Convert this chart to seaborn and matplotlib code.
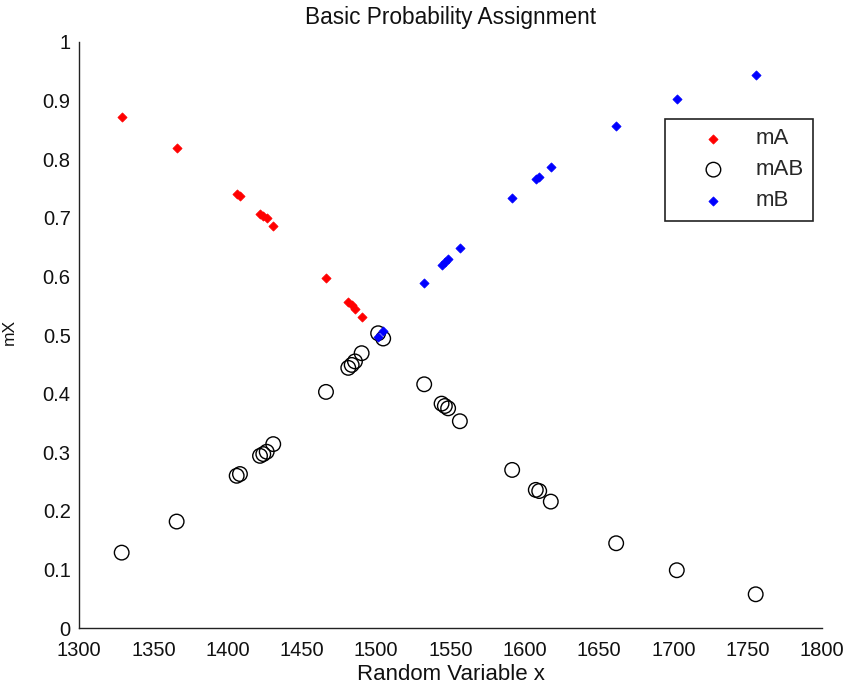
import matplotlib
matplotlib.use("Agg")
import matplotlib.pyplot as plt
import seaborn as sns
import pandas as pd

# x values (left half: mA region, right half: mB region)
x_left = [1328.7, 1365.7, 1406.1, 1408.3, 1421.8, 1424.0, 1426.3, 1430.7,
          1466.2, 1481.2, 1483.5, 1485.7, 1490.2]
mA = [0.871, 0.818, 0.740, 0.737, 0.706, 0.703, 0.699, 0.686,
      0.597, 0.556, 0.551, 0.545, 0.531]
mAB_left = [0.129, 0.182, 0.260, 0.263, 0.294, 0.297, 0.301, 0.314,
            0.403, 0.444, 0.449, 0.455, 0.469]

x_right = [1501.3, 1504.7, 1532.3, 1544.0, 1546.2, 1548.4, 1556.3, 1591.5,
           1607.4, 1609.7, 1617.5, 1661.5, 1702.3, 1755.4]
mB = [0.497, 0.506, 0.588, 0.619, 0.624, 0.629, 0.649, 0.734,
      0.766, 0.770, 0.787, 0.857, 0.903, 0.944]
mAB_right = [0.503, 0.494, 0.416, 0.383, 0.379, 0.375, 0.353, 0.270,
             0.236, 0.234, 0.216, 0.145, 0.099, 0.058]

title = "Basic Probability Assignment"
xlabel = "Random Variable x"
ylabel = "mX"
xticks = [1300, 1350, 1400, 1450, 1500, 1550, 1600, 1650, 1700, 1750, 1800]
yticks = [0, 0.1, 0.2, 0.3, 0.4, 0.5, 0.6, 0.7, 0.8, 0.9, 1]
ytick_labels = ["0", "0.1", "0.2", "0.3", "0.4", "0.5", "0.6", "0.7", "0.8", "0.9", "1"]

sns.set_style("white")
plt.rcParams["font.family"] = ["Liberation Sans", "DejaVu Sans"]

df_A = pd.DataFrame({"x": x_left, "y": mA})
df_AB = pd.DataFrame({"x": x_left + x_right, "y": mAB_left + mAB_right})
df_B = pd.DataFrame({"x": x_right, "y": mB})

fig = plt.figure(figsize=(8.48, 6.86), dpi=100)
ax = fig.add_axes([0.0932, 0.0841, 0.8761, 0.8551])

sns.scatterplot(data=df_A, x="x", y="y", ax=ax, marker="D", s=22,
                color="#ff0000", edgecolor="#ff0000", linewidth=0.5, label="mA", zorder=3)
sns.scatterplot(data=df_AB, x="x", y="y", ax=ax, marker="o", s=110,
                facecolor="none", edgecolor="black", linewidth=1.0, label="mAB", zorder=2)
sns.scatterplot(data=df_B, x="x", y="y", ax=ax, marker="D", s=22,
                color="#0000ff", edgecolor="#0000ff", linewidth=0.5, label="mB", zorder=3)

ax.set_xlim(1300, 1800)
ax.set_ylim(0, 1)
ax.set_xticks(xticks)
ax.set_xticklabels([str(t) for t in xticks])
ax.set_yticks(yticks)
ax.set_yticklabels(ytick_labels)
ax.tick_params(direction="in", length=5.5, width=0.9, labelsize=14.5,
               colors="#222222", labelcolor="#111111")
ax.tick_params(axis="x", pad=9)
ax.tick_params(axis="y", pad=6)
for side in ["top", "right"]:
    ax.spines[side].set_visible(False)
for side in ["left", "bottom"]:
    ax.spines[side].set_color("#222222")
    ax.spines[side].set_linewidth(1.0)

ax.set_title(title, fontsize=16.3, color="#111111", pad=13)
ax.set_xlabel(xlabel, fontsize=16, color="#111111", labelpad=3)
ax.set_ylabel(ylabel, fontsize=12.5, color="#111111")
ax.yaxis.set_label_coords(-0.084, 0.505)

leg = ax.legend(loc="upper left", bbox_to_anchor=(0.789, 0.868), fontsize=16,
                frameon=True, fancybox=False, edgecolor="#222222",
                handletextpad=0.15, borderpad=0.42, labelspacing=0.45,
                handlelength=3.5, borderaxespad=0)
leg.get_frame().set_linewidth(1.2)
leg.get_frame().set_alpha(1)

fig.savefig("out.png", dpi=100)
